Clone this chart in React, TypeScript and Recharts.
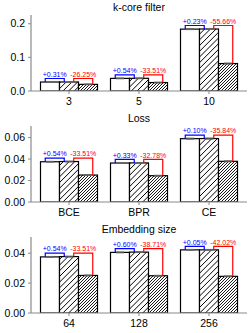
import React from 'react';
import { BarChart, Bar, XAxis, YAxis, ErrorBar, LabelList } from 'recharts';

// k-core filter
const kcoreCats = ['3', '5', '10'];
const kcoreBase = [0.0267, 0.0375, 0.184];
const kcoreVar = [0.0268, 0.0377, 0.1844];
const kcoreOurs = [0.0197, 0.0251, 0.0816];
const kcoreErr = [0.0012, 0.0012, 0.0015];
const kcoreUp = ['+0.31%', '+0.54%', '+0.23%'];
const kcoreDown = ['-26.25%', '-33.51%', '-55.66%'];
const kcoreTicks = [0, 0.1, 0.2];
const kcoreTickLabels = ['0.0', '0.1', '0.2'];

// Loss
const lossCats = ['BCE', 'BPR', 'CE'];
const lossBase = [0.0375, 0.0363, 0.059];
const lossVar = [0.0377, 0.0364, 0.0591];
const lossOurs = [0.0251, 0.0245, 0.0379];
const lossErr = [0.0004, 0.0004, 0.0005];
const lossUp = ['+0.54%', '+0.33%', '+0.10%'];
const lossDown = ['-33.51%', '-32.78%', '-35.84%'];
const lossTicks = [0, 0.02, 0.04, 0.06];
const lossTickLabels = ['0.00', '0.02', '0.04', '0.06'];

// Embedding size
const embCats = ['64', '128', '256'];
const embBase = [0.0375, 0.0405, 0.0422];
const embVar = [0.0377, 0.0407, 0.0422];
const embOurs = [0.0251, 0.0249, 0.0245];
const embErr = [0.0003, 0.0003, 0.0003];
const embUp = ['+0.54%', '+0.60%', '+0.05%'];
const embDown = ['-33.51%', '-38.71%', '-42.02%'];
const embTicks = [0, 0.02, 0.04];
const embTickLabels = ['0.00', '0.02', '0.04'];

const FONT = '"Liberation Sans", Arial, Helvetica, sans-serif';
const FRAME = '#8a8a8a';
const BLUE = '#0000ff';
const RED = '#ff0000';

const makeBrackets = (a: number[], b: number[], c: number[], up: string[], down: string[]) =>
  (props: any) => {
    const vb = props.viewBox || {};
    const x = props.x ?? vb.x;
    const y = props.y ?? vb.y;
    const w = props.width ?? vb.width;
    const h = props.height ?? vb.height;
    const i = props.index;
    if (x == null || i == null) return null;
    const base = y + h;
    const ppu = h / c[i];
    const t1 = base - a[i] * ppu;
    const t2 = base - b[i] * ppu;
    const t3 = y;
    const x1 = x - 2 * w + w / 4;
    const x2 = x - w + w / 4;
    const x3 = x - w + (3 * w) / 4;
    const x4 = x + (3 * w) / 4;
    const hb = Math.min(t1, t2) - 3.5;
    const hr = Math.min(t2, t3) - 3.5;
    return (
      <g>
        <polyline points={`${x1},${t1} ${x1},${hb} ${x2},${hb} ${x2},${t2}`} fill="none" stroke={BLUE} strokeWidth={1.2} />
        <polyline points={`${x3},${t2} ${x3},${hr} ${x4},${hr} ${x4},${t3}`} fill="none" stroke={RED} strokeWidth={1.2} />
        <text x={(x1 + x2) / 2} y={hb - 1.8} textAnchor="middle" fontSize={7} fill={BLUE} fontFamily={FONT}>{up[i]}</text>
        <text x={(x3 + x4) / 2} y={hr - 1.8} textAnchor="middle" fontSize={7} fill={RED} fontFamily={FONT}>{down[i]}</text>
      </g>
    );
  };

// white bar with "/" hatching drawn inside it (spacing 0 = no hatch)
const hatchShape = (spacing: number, lw: number) => (p: any) => {
  const { x, y, width, height } = p;
  if (x == null || width == null || height == null) return null;
  const x0 = x, x1 = x + width, y0 = y, y1 = y + height;
  const lines: React.ReactNode[] = [];
  if (spacing > 0) {
    for (let k = Math.ceil((x0 + y0) / spacing) * spacing; k <= x1 + y1; k += spacing) {
      const xa = Math.max(x0, k - y1);
      const xb = Math.min(x1, k - y0);
      if (xb > xa) lines.push(<line key={k} x1={xa} y1={k - xa} x2={xb} y2={k - xb} stroke="#000" strokeWidth={lw} />);
    }
  }
  return (
    <g>
      <rect x={x} y={y} width={width} height={height} fill="#fff" stroke="none" />
      {lines}
      <rect x={x} y={y} width={width} height={height} fill="none" stroke="#000" strokeWidth={1.2} />
    </g>
  );
};

interface PanelProps {
  title: string;
  cats: string[];
  a: number[];
  b: number[];
  c: number[];
  err: number[];
  up: string[];
  down: string[];
  ticks: number[];
  tickLabels: string[];
  yMax: number;
}

function Panel({ title, cats, a, b, c, err, up, down, ticks, tickLabels, yMax }: PanelProps) {
  const data = cats.map((name, i) => ({ name, a: a[i], b: b[i], c: c[i], e: err[i] }));
  const tickStyle = { fill: '#000', fontSize: 10.5, fontFamily: FONT };
  return (
    <BarChart width={250} height={111} data={data} barGap={0} barCategoryGap={6.5}
      margin={{ top: 15, right: 3, left: 0, bottom: 0 }}>
      <text x={139} y={11} textAnchor="middle" fontSize={10.5} fontFamily={FONT} fill="#000">{title}</text>
      <XAxis dataKey="name" interval={0} padding={{ left: 3, right: 3 }} height={20}
        tickSize={3} tickMargin={4} tick={tickStyle}
        axisLine={{ stroke: FRAME, strokeWidth: 1.2 }} tickLine={{ stroke: FRAME }} />
      <XAxis xAxisId="top" orientation="top" dataKey="name" height={0} tick={false} tickLine={false}
        axisLine={{ stroke: FRAME, strokeWidth: 1.2 }} />
      <YAxis domain={[0, yMax]} ticks={ticks} width={31} tickSize={3} tickMargin={3}
        allowDataOverflow tick={tickStyle}
        tickFormatter={(v: number) => tickLabels[ticks.indexOf(v)] ?? String(v)}
        axisLine={{ stroke: FRAME, strokeWidth: 1.2 }} tickLine={{ stroke: FRAME }} />
      <YAxis yAxisId="right" orientation="right" width={0} tick={false} tickLine={false}
        axisLine={{ stroke: FRAME, strokeWidth: 1.2 }} />
      <Bar dataKey="a" fill="#fff" shape={hatchShape(0, 0)} isAnimationActive={false}>
        <ErrorBar dataKey="e" width={4} stroke="#666" strokeWidth={1} />
      </Bar>
      <Bar dataKey="b" fill="#fff" shape={hatchShape(5.7, 1)} isAnimationActive={false}>
        <ErrorBar dataKey="e" width={4} stroke="#666" strokeWidth={1} />
      </Bar>
      <Bar dataKey="c" fill="#fff" shape={hatchShape(3, 0.9)} isAnimationActive={false}>
        <ErrorBar dataKey="e" width={4} stroke="#666" strokeWidth={1} />
        <LabelList dataKey="c" content={makeBrackets(a, b, c, up, down)} />
      </Bar>
    </BarChart>
  );
}

export default function App() {
  return (
    <div style={{ position: 'absolute', left: 0, top: 0, width: 250, height: 333, background: '#fff', fontFamily: FONT }}>
      <Panel title="k-core filter" cats={kcoreCats} a={kcoreBase} b={kcoreVar} c={kcoreOurs} err={kcoreErr}
        up={kcoreUp} down={kcoreDown} ticks={kcoreTicks} tickLabels={kcoreTickLabels} yMax={0.226} />
      <Panel title="Loss" cats={lossCats} a={lossBase} b={lossVar} c={lossOurs} err={lossErr}
        up={lossUp} down={lossDown} ticks={lossTicks} tickLabels={lossTickLabels} yMax={0.0708} />
      <Panel title="Embedding size" cats={embCats} a={embBase} b={embVar} c={embOurs} err={embErr}
        up={embUp} down={embDown} ticks={embTicks} tickLabels={embTickLabels} yMax={0.0508} />
    </div>
  );
}
